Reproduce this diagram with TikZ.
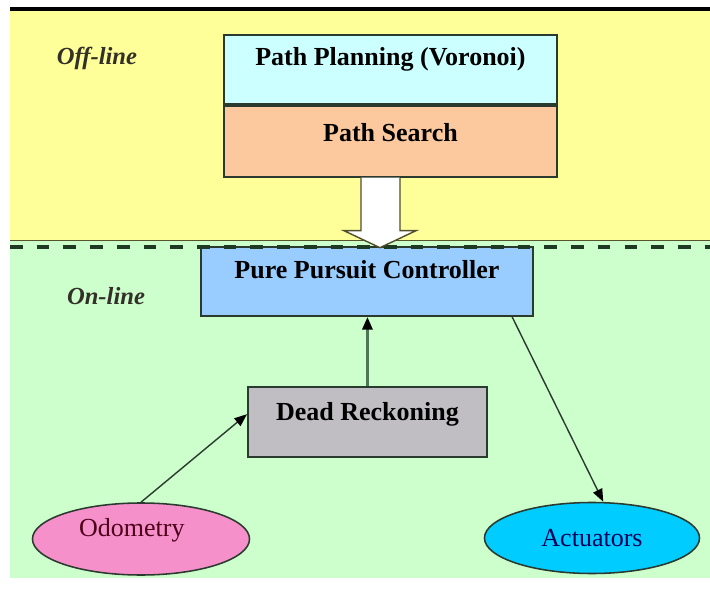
\documentclass[tikz,border=0pt]{standalone}
\usepackage{fontspec}
\setmainfont{Liberation Serif}
\usetikzlibrary{arrows.meta,calc,positioning}
\usetikzlibrary{shapes.geometric}

\definecolor{offbg}{HTML}{FFFF99}
\definecolor{onbg}{HTML}{CCFFCC}
\definecolor{planfill}{HTML}{CCFFFF}
\definecolor{searchfill}{HTML}{FBC99D}
\definecolor{pursuitfill}{HTML}{99CCFF}
\definecolor{deadfill}{HTML}{C0BEC2}
\definecolor{odofill}{HTML}{F690CB}
\definecolor{actfill}{HTML}{00CCFF}
\definecolor{edge}{HTML}{2B3A2E}
\definecolor{dashcol}{HTML}{1E3A22}
\definecolor{thickcol}{HTML}{4E7656}

\tikzset{
  blockbox/.style={draw=edge, line width=1.3pt, inner sep=0pt, font=\fontsize{18.5}{20}\selectfont\bfseries},
  oval/.style={ellipse, draw=edge, line width=1.1pt, inner sep=0pt, font=\fontsize{18.5}{20}\selectfont},
  zonelabel/.style={font=\fontsize{17.5}{20}\selectfont\bfseries\itshape, text=black!85!olive},
  link/.style={-{Triangle[length=9pt,width=7pt,color=black]}, draw=edge, line width=1pt},
}

\begin{document}
\begin{tikzpicture}[x=0.025cm, y=-0.025cm]
  \useasboundingbox (0,0) rectangle (710,589);
  \fill  [offbg] (10,10) rectangle (710,241);
  \draw  [black!50!olive, line width=1pt] (10,241) -- (710,241);
  \fill  [onbg] (10,241) rectangle (710,578);
  \draw  [black, line width=2.2pt] (10,9) -- (710,9);

  \node  [zonelabel] (offline) at (97,58) {Off-line};
  \node  [zonelabel] (online) at (106,296) {On-line};

  \node  [blockbox, fill=planfill, anchor=north west, minimum width=8.325cm,
          text height=0.775cm, text depth=0.95cm] (plan) at (223,34) {Path Planning (Voronoi)};
  \node  [blockbox, fill=searchfill, below=0pt of plan, minimum width=8.325cm,
          text height=0.9cm, text depth=0.875cm] (search) {Path Search};

  \node  [blockbox, fill=pursuitfill, anchor=north west, minimum width=8.3cm,
          text height=0.8cm, text depth=0.925cm] (pursuit) at (200,246) {Pure Pursuit Controller};
  \node  [blockbox, fill=deadfill, anchor=north west, minimum width=5.975cm,
          text height=0.85cm, text depth=0.9cm] (dead) at (247,386) {Dead Reckoning};

  \node  [oval, fill=odofill, text=black!60!purple, minimum width=5.425cm, minimum height=1.8cm] (odo) at (141,539) {\raisebox{2pt}[0pt][0pt]{\hspace{-13pt}Odometry}};
  \node  [oval, fill=actfill, text=blue!35!black, minimum width=5.375cm, minimum height=1.775cm] (act) at (592,538) {Actuators};

  \draw  [dashcol, line width=2.2pt, dash pattern=on 9pt off 10pt] (10,247) -- (710,247);

  \draw  [draw=black!55!olive, fill=white, line width=1pt]
    ($(search.south)+(-29.5,0)$) -- ++(0,53) -- ++(-17,0) -- ++(36,17) -- ++(36,-17)
    -- ++(-16,0) -- ($(search.south)+(9.5,0)$);

  \draw  [link] (odo.north) -- ([yshift=5.5pt]dead.west);
  \draw  [link, draw=thickcol, line width=2.2pt] (dead.north) -- (dead.north |- pursuit.south);
  \draw  [link] ([xshift=-15.5pt]pursuit.south east) -- ([xshift=8pt]act.north);
\end{tikzpicture}
\end{document}
